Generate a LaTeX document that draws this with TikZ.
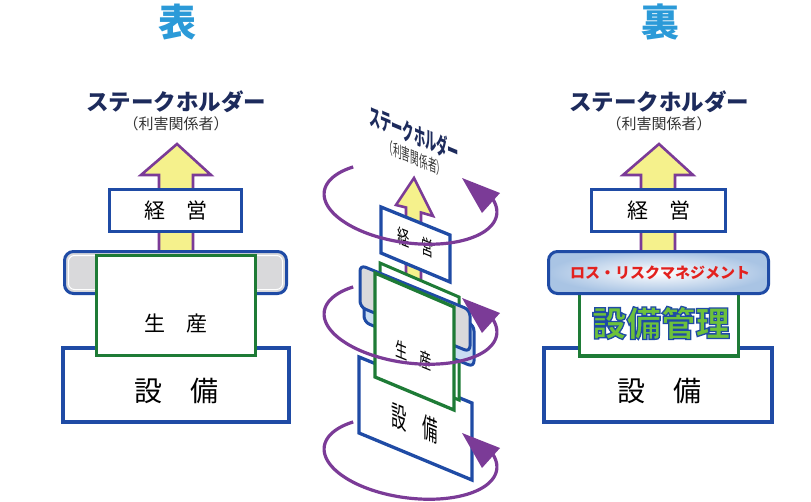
\documentclass[tikz,border=0pt]{standalone}
\usepackage{fontspec}
\newfontfamily\jp{Noto Sans CJK JP}
\definecolor{bluebd}{HTML}{1F4BA5}
\definecolor{greenbd}{HTML}{1E7B36}
\definecolor{purp}{HTML}{7B3B97}
\definecolor{yel}{HTML}{F5F18C}
\definecolor{grayfill}{HTML}{D9D9DB}
\definecolor{titleblue}{HTML}{2B9AD8}
\definecolor{navy}{HTML}{1D2B5C}
\definecolor{subgray}{HTML}{333333}
\definecolor{redtxt}{HTML}{E3211E}
\definecolor{kgreen}{HTML}{6DC13B}
\definecolor{lightblue}{HTML}{A9C4E4}
\definecolor{paleblue}{HTML}{C9DDF2}
\newcommand\ringat[1]{%
  \draw[ringline] plot[domain=-24:225, samples=90, smooth]
    ({410.5+86.25*cos(\x)-5.22*sin(\x)}, {#1+203+11.35*cos(\x)+39.66*sin(\x)});
  \fill[purp] (462,#1+178) -- (500,#1+193) -- (482,#1+213) -- cycle;}
\newcommand\outlinedtext[1]{\special{pdf:literal direct q 2 Tr 1.3 w 0.122 0.294 0.647 RG}#1\special{pdf:literal direct Q}}
\begin{document}
\begin{tikzpicture}[x=1pt,y=-1pt,
  box/.style={draw=bluebd, line width=3.3pt, fill=white, inner sep=0pt},
  gbox/.style={draw=greenbd, line width=3.3pt, fill=white, inner sep=0pt},
  arrowshape/.style={draw=purp, line width=2.6pt, fill=yel, line join=miter},
  ringline/.style={draw=purp, line width=3.2pt},
  ttl/.style={font=\jp\bfseries\fontsize{38}{38}\selectfont, text=titleblue, inner sep=0pt},
  sh/.style={font=\jp\bfseries\fontsize{22.5}{22.5}\selectfont, text=navy, inner sep=0pt},
  sub/.style={font=\jp\fontsize{15}{15}\selectfont, text=subgray, inner sep=0pt},
  lbl/.style={font=\jp\fontsize{21}{21}\selectfont, inner sep=0pt},
  big/.style={font=\jp\fontsize{28}{28}\selectfont, inner sep=0pt},
  risk/.style={font=\jp\bfseries\fontsize{15}{15}\selectfont, text=redtxt, inner sep=0pt},
  kanri/.style={font=\jp\bfseries\fontsize{34.5}{34.5}\selectfont, inner sep=0pt}]
\useasboundingbox (0,0) rectangle (811,501);
\fill[white] (0,0) rectangle (811,501);

% ---------------- left panel (表)
\node[ttl] (omote) at (177,22) {表};
\node[sh] (shL) at (176,102) {ステークホルダー};
\node[sub] (subL) at (176,124) {（利害関係者）};
\draw[arrowshape] (177,144) -- (211,175) -- (193,175) -- (193,262) -- (159,262) -- (159,175) -- (141,175) -- cycle;
\node[box, minimum width=226, minimum height=74] (setsubiL) at (176,385) {};
\node[big] (tsetsubiL) at (176,391) {設　備};
\node[draw=bluebd, line width=3pt, fill=grayfill, rounded corners=9pt, minimum width=222, minimum height=42] (rbL) at (175.5,272.5) {};
\node[draw=white, line width=1pt, rounded corners=6pt, minimum width=214, minimum height=34] (rbLin) at (175.5,272.5) {};
\node[gbox, minimum width=159, minimum height=100] (seisanL) at (176,305.5) {};
\node[lbl] (tseisanL) at (176,324) {生　産};
\node[box, lbl, minimum width=132, minimum height=42] (keieiL) at (175.5,210.5) {経　営};

% ---------------- right panel (裏)
\node[ttl] (ura) at (660,22) {裏};
\node[sh] (shR) at (659,102) {ステークホルダー};
\node[sub] (subR) at (659,124) {（利害関係者）};
\draw[arrowshape] (659,144) -- (693,175) -- (675,175) -- (675,262) -- (641,262) -- (641,175) -- (623,175) -- cycle;
\node[box, minimum width=228, minimum height=74] (setsubiR) at (658,385) {};
\node[big] (tsetsubiR) at (659,391) {設　備};
\node[gbox, minimum width=159, minimum height=85] (kanriboxR) at (659,313.5) {};
\node[kanri, text=kgreen] (kanriR) at (661,323) {\outlinedtext{設備管理}};
\node[draw=bluebd, line width=3pt, rounded corners=9pt, inner color=white, outer color=lightblue, minimum width=220, minimum height=42] (riskbox) at (658.5,272.5) {};
\node[risk] (risktxt) at (660,273) {ロス・リスクマネジメント};
\node[box, lbl, minimum width=134, minimum height=42] (keieiR) at (658.5,210.5) {経　営};

% ---------------- middle panel (3D)
\begin{scope}[shift={(414,134)}, yslant=-0.42]
  \node[sh, xscale=0.5, yscale=1.05, transform shape] (shM) at (0,0) {ステークホルダー};
\end{scope}
\begin{scope}[shift={(415,158)}, yslant=-0.42]
  \node[sub, xscale=0.58, yscale=1.1, transform shape] (subM) at (0,0) {（利害関係者）};
\end{scope}
\draw[arrowshape] (414,178) -- (433,216) -- (421,212.5) -- (421,298) -- (406,292) -- (406,207.5) -- (396,205) -- cycle;
\draw[draw=bluebd, line width=3.3pt, fill=white, line join=miter] (381,207) -- (450,235) -- (450,282) -- (381,253) -- cycle;
\begin{scope}[shift={(415.5,242)}, yslant=-0.41]
  \node[lbl, xscale=0.58, yscale=0.95, transform shape] (keieiM) at (0,0) {経　営};
\end{scope}
\ringat{0}
% equipment box
\draw[draw=bluebd, line width=3.3pt, fill=white, line join=miter] (359,357) -- (472,403) -- (472,480) -- (359,433) -- cycle;
% back green
\draw[draw=greenbd, line width=3pt, fill=white, line join=miter] (380,263) -- (459,297) -- (459,400) -- (380,367) -- cycle;
% light blue and gray rounded layers
\draw[draw=bluebd, line width=3pt, fill=paleblue, rounded corners=6pt] (364,280) -- (474,325) -- (474,367) -- (364,322) -- cycle;
\draw[draw=bluebd, line width=3pt, fill=grayfill, rounded corners=6pt] (360,265) -- (470,310) -- (470,352) -- (360,307) -- cycle;
% front green
\draw[draw=greenbd, line width=3.3pt, fill=white, line join=miter] (375,273) -- (454,307) -- (454,410) -- (375,377) -- cycle;
\begin{scope}[shift={(413.5,355)}, yslant=-0.41]
  \node[lbl, xscale=0.58, yscale=0.95, transform shape] (seisanM) at (0,0) {生　産};
\end{scope}
\begin{scope}[shift={(415,423)}, yslant=-0.41]
  \node[big, xscale=0.55, yscale=1.0, transform shape] (setsubiM) at (0,0) {設　備};
\end{scope}
\ringat{120}
\ringat{255}
\end{tikzpicture}
\end{document}
